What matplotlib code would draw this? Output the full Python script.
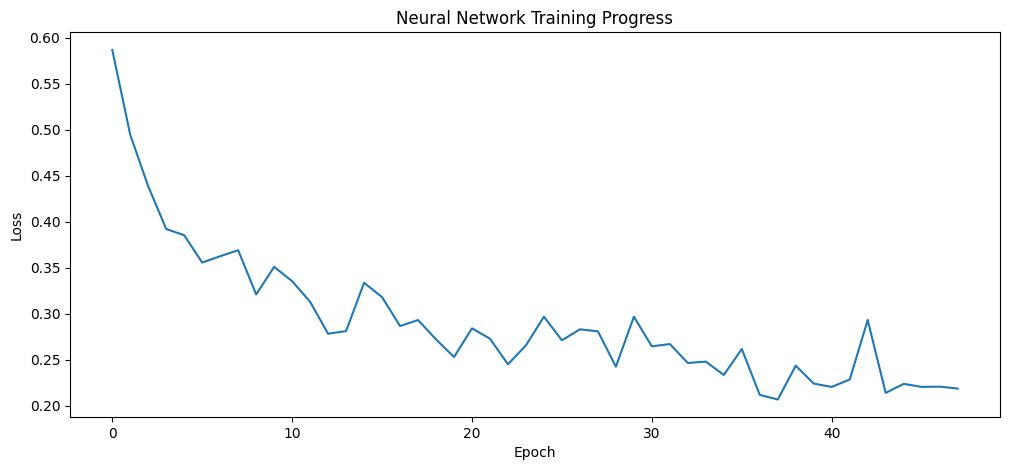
import matplotlib
matplotlib.use("Agg")
import matplotlib.pyplot as plt

epochs = list(range(48))
loss = [0.587, 0.4947, 0.4386, 0.3923, 0.3855, 0.3558, 0.3627, 0.3692, 0.3211, 0.3511,
        0.3356, 0.3131, 0.2784, 0.2813, 0.3338, 0.3182, 0.2868, 0.2933, 0.2723, 0.2531,
        0.2843, 0.2730, 0.2452, 0.2658, 0.2969, 0.2713, 0.2832, 0.2810, 0.2426, 0.2969,
        0.2647, 0.2672, 0.2466, 0.2481, 0.2336, 0.2618, 0.2119, 0.2069, 0.2437, 0.2242,
        0.2206, 0.2286, 0.2933, 0.2141, 0.2239, 0.2206, 0.2209, 0.2188]

fig, ax = plt.subplots(figsize=(10.1, 4.7), dpi=100)
fig.subplots_adjust(left=0.0693, right=0.990, top=0.931, bottom=0.1128)
ax.plot(epochs, loss, color="#1f77b4")
ax.set_title("Neural Network Training Progress")
ax.set_xlabel("Epoch")
ax.set_ylabel("Loss")
fig.savefig("out.png", dpi=100)
